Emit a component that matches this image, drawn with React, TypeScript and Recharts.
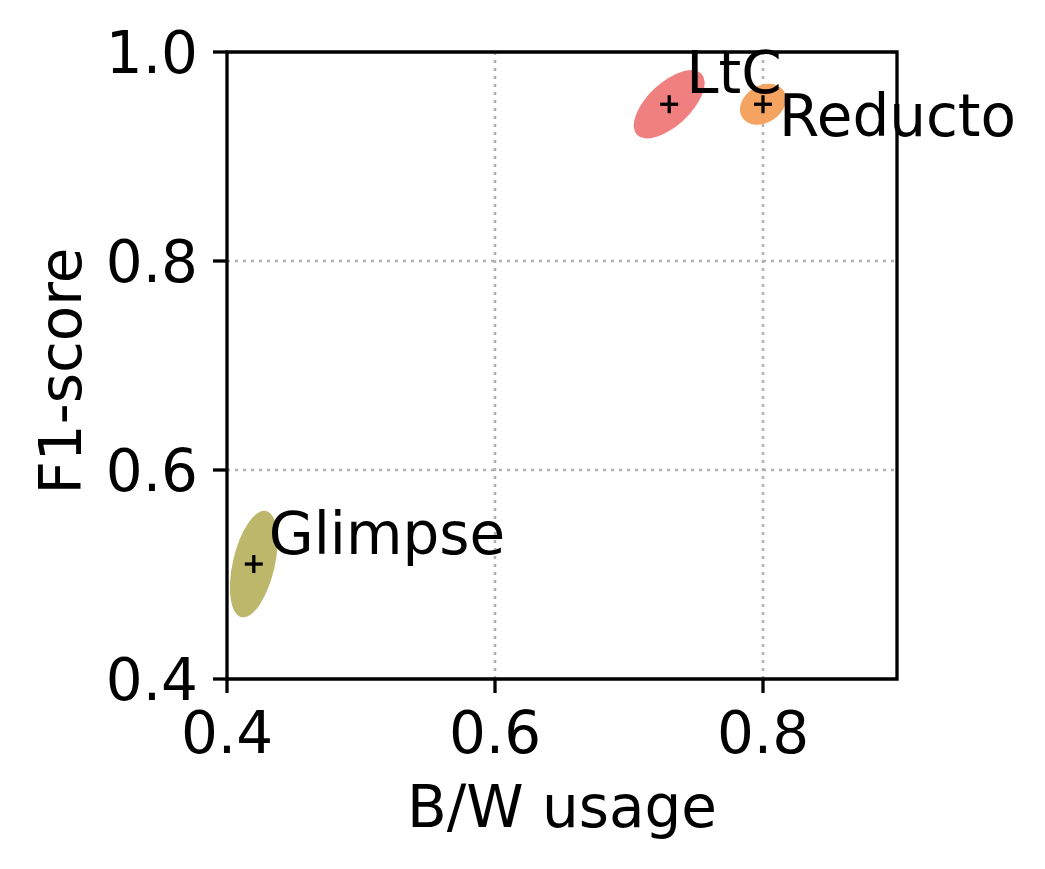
import React from "react"
import { ScatterChart, Scatter, XAxis, YAxis, CartesianGrid, ReferenceArea } from "recharts"

// methods and their mean scores
const methods = ["LtC", "Reducto", "Glimpse"]
const bwUsage = [0.73, 0.8, 0.42]
const f1Score = [0.95, 0.95, 0.51]

// spread of each method (1-sigma, data units) and x/y correlation
const bwSpread = [0.0265, 0.0172, 0.0178]
const f1Spread = [0.0327, 0.0196, 0.051]
const spreadCorr = [0.62, 0.26, 0.44]

const colors = ["#f08080", "#f4a460", "#bdb76b"]

const xTicks = [0.4, 0.6, 0.8]
const yTicks = [0.4, 0.6, 0.8, 1.0]
const xDomain = [0.4, 0.9]
const yDomain = [0.4, 1.0]

const W = 1045
const H = 869
const PLOT_LEFT = 227
const PLOT_RIGHT = 897
const PLOT_TOP = 52
const PLOT_BOTTOM = 679
const FONT = "DejaVu Sans, Verdana, sans-serif"
const FS = 58

// pixel offsets for the annotations
const labelOffsets: Record<string, { dx: number; dy: number }> = {
  LtC: { dx: 17, dy: -11 },
  Reducto: { dx: 16, dy: 32 },
  Glimpse: { dx: 15, dy: -10 },
}

const data = methods.map((name, i) => ({
  name,
  x: bwUsage[i],
  y: f1Score[i],
  sx: bwSpread[i],
  sy: f1Spread[i],
  rho: spreadCorr[i],
  color: colors[i],
}))

const pxPerX = (PLOT_RIGHT - PLOT_LEFT) / (xDomain[1] - xDomain[0])
const pxPerY = (PLOT_BOTTOM - PLOT_TOP) / (yDomain[1] - yDomain[0])

const EllipseShape = (props: any) => {
  const { cx, cy, payload } = props
  const Sx = payload.sx * pxPerX
  const Sy = payload.sy * pxPerY
  // y is flipped on screen
  const c = -payload.rho * Sx * Sy
  const a = Sx * Sx
  const d = Sy * Sy
  const mid = (a + d) / 2
  const r = Math.sqrt(((a - d) / 2) ** 2 + c * c)
  const rx = Math.sqrt(mid + r)
  const ry = Math.sqrt(Math.max(mid - r, 0))
  const ang = (0.5 * Math.atan2(2 * c, a - d) * 180) / Math.PI
  return (
    <ellipse
      cx={cx}
      cy={cy}
      rx={rx}
      ry={ry}
      fill={payload.color}
      transform={`rotate(${ang} ${cx} ${cy})`}
    />
  )
}

const PlusShape = (props: any) => {
  const { cx, cy, payload } = props
  const s = 9
  const off = labelOffsets[payload.name]
  return (
    <g>
      <line x1={cx - s} y1={cy} x2={cx + s} y2={cy} stroke="#000" strokeWidth={3.3} />
      <line x1={cx} y1={cy - s} x2={cx} y2={cy + s} stroke="#000" strokeWidth={3.3} />
      <text x={cx + off.dx} y={cy + off.dy} fontSize={FS} fontFamily={FONT} fill="#000">
        {payload.name}
      </text>
    </g>
  )
}

const XTick = (props: any) => (
  <text x={props.x} y={PLOT_BOTTOM + 74} textAnchor="middle" fontSize={FS} fontFamily={FONT} fill="#000">
    {Number(props.payload.value).toFixed(1)}
  </text>
)

const YTick = (props: any) => (
  <text x={PLOT_LEFT - 29} y={props.y + 21} textAnchor="end" fontSize={FS} fontFamily={FONT} fill="#000">
    {Number(props.payload.value).toFixed(1)}
  </text>
)

export default function App() {
  return (
    <div style={{ position: "absolute", left: 0, top: 0, width: W, height: H, background: "#fff" }}>
      <ScatterChart
        width={W}
        height={H}
        margin={{ top: PLOT_TOP, right: W - PLOT_RIGHT, bottom: 0, left: 0 }}
      >
        <CartesianGrid stroke="#b0b0b0" strokeWidth={2.5} strokeDasharray="3 5" />
        <XAxis
          type="number"
          dataKey="x"
          domain={xDomain}
          ticks={xTicks}
          height={H - PLOT_BOTTOM}
          axisLine={false}
          tickSize={14}
          tickLine={{ stroke: "#000", strokeWidth: 3.3 }}
          tick={<XTick />}
          label={() => (
            <text x={(PLOT_LEFT + PLOT_RIGHT) / 2} y={827} textAnchor="middle" fontSize={FS} fontFamily={FONT} fill="#000">
              B/W usage
            </text>
          )}
        />
        <YAxis
          type="number"
          dataKey="y"
          domain={yDomain}
          ticks={yTicks}
          width={PLOT_LEFT}
          axisLine={false}
          tickSize={14}
          tickLine={{ stroke: "#000", strokeWidth: 3.3 }}
          tick={<YTick />}
          label={() => {
            const cy = 371
            return (
              <text
                x={81}
                y={cy}
                transform={`rotate(-90 81 ${cy})`}
                textAnchor="middle"
                fontSize={FS}
                fontFamily={FONT}
                fill="#000"
              >
                F1-score
              </text>
            )
          }}
        />
        <Scatter data={data} shape={<EllipseShape />} isAnimationActive={false} />
        <ReferenceArea
          x1={xDomain[0]}
          x2={xDomain[1]}
          y1={yDomain[0]}
          y2={yDomain[1]}
          fill="none"
          fillOpacity={0}
          stroke="#000"
          strokeWidth={3.3}
        />
        <Scatter data={data} shape={<PlusShape />} isAnimationActive={false} />
      </ScatterChart>
    </div>
  )
}
